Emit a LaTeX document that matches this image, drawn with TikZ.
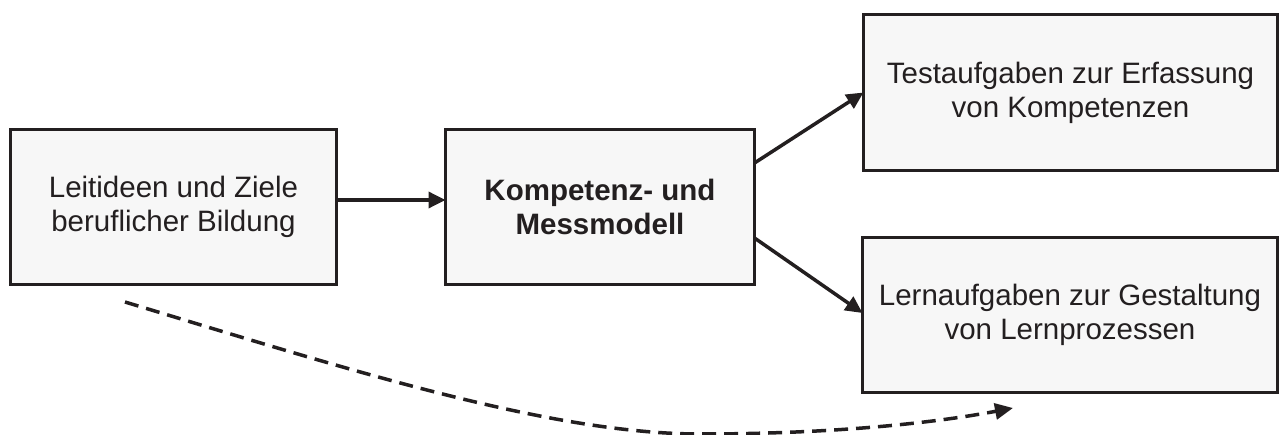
\documentclass[tikz,border=0pt]{standalone}
\usepackage{fontspec}
\setmainfont{Liberation Sans}
\usetikzlibrary{arrows.meta}
\definecolor{ink}{HTML}{231F20}
\definecolor{boxfill}{HTML}{F7F7F7}
\begin{document}
\begin{tikzpicture}[x=1pt,y=-1pt,
  box/.style={draw=ink, fill=boxfill, line width=3.5pt, inner sep=0pt, outer sep=0pt,
    align=center, text=ink, font=\fontsize{29.5}{34}\selectfont},
  link/.style={draw=ink, line width=3.5pt, -{Triangle[length=17pt,width=16pt]}},
  flow/.style={draw=ink, line width=3.5pt, dash pattern=on 14pt off 8pt,
    -{Triangle[length=18pt,width=16pt]}}]
\useasboundingbox (0,0) rectangle (1288,435);

\node[box, minimum width=326pt, minimum height=155pt] (ziele) at (173.5,207)
  {Leitideen und Ziele\\beruflicher Bildung};
\node[box, minimum width=309pt, minimum height=155pt,
  font=\fontsize{29.5}{34}\selectfont\bfseries] (modell) at (600,207)
  {Kompetenz- und\\Messmodell};
\node[box, minimum width=414pt, minimum height=156pt] (test) at (1070.5,92.5)
  {Testaufgaben zur Erfassung\\von Kompetenzen};
\node[box, minimum width=415pt, minimum height=155pt] (lern) at (1070,315)
  {Lernaufgaben zur Gestaltung\\von Lernprozessen};

\draw[link] ([yshift=7pt]ziele.east) -- ([yshift=7pt]modell.west);
\draw[link] ([yshift=44pt]modell.east) -- (test.west);
\draw[link] ([yshift=-31pt]modell.east) -- ([yshift=2pt]lern.west);

% dashed link running below the middle box
\coordinate (dstart) at (125,302);
\coordinate (dlow) at (700,434);
\coordinate (dend) at (1013,408);
\draw[flow] (dstart) .. controls (350,370) and (550,434) .. (dlow)
  .. controls (850,434) and (950,420) .. (dend);
\end{tikzpicture}
\end{document}
